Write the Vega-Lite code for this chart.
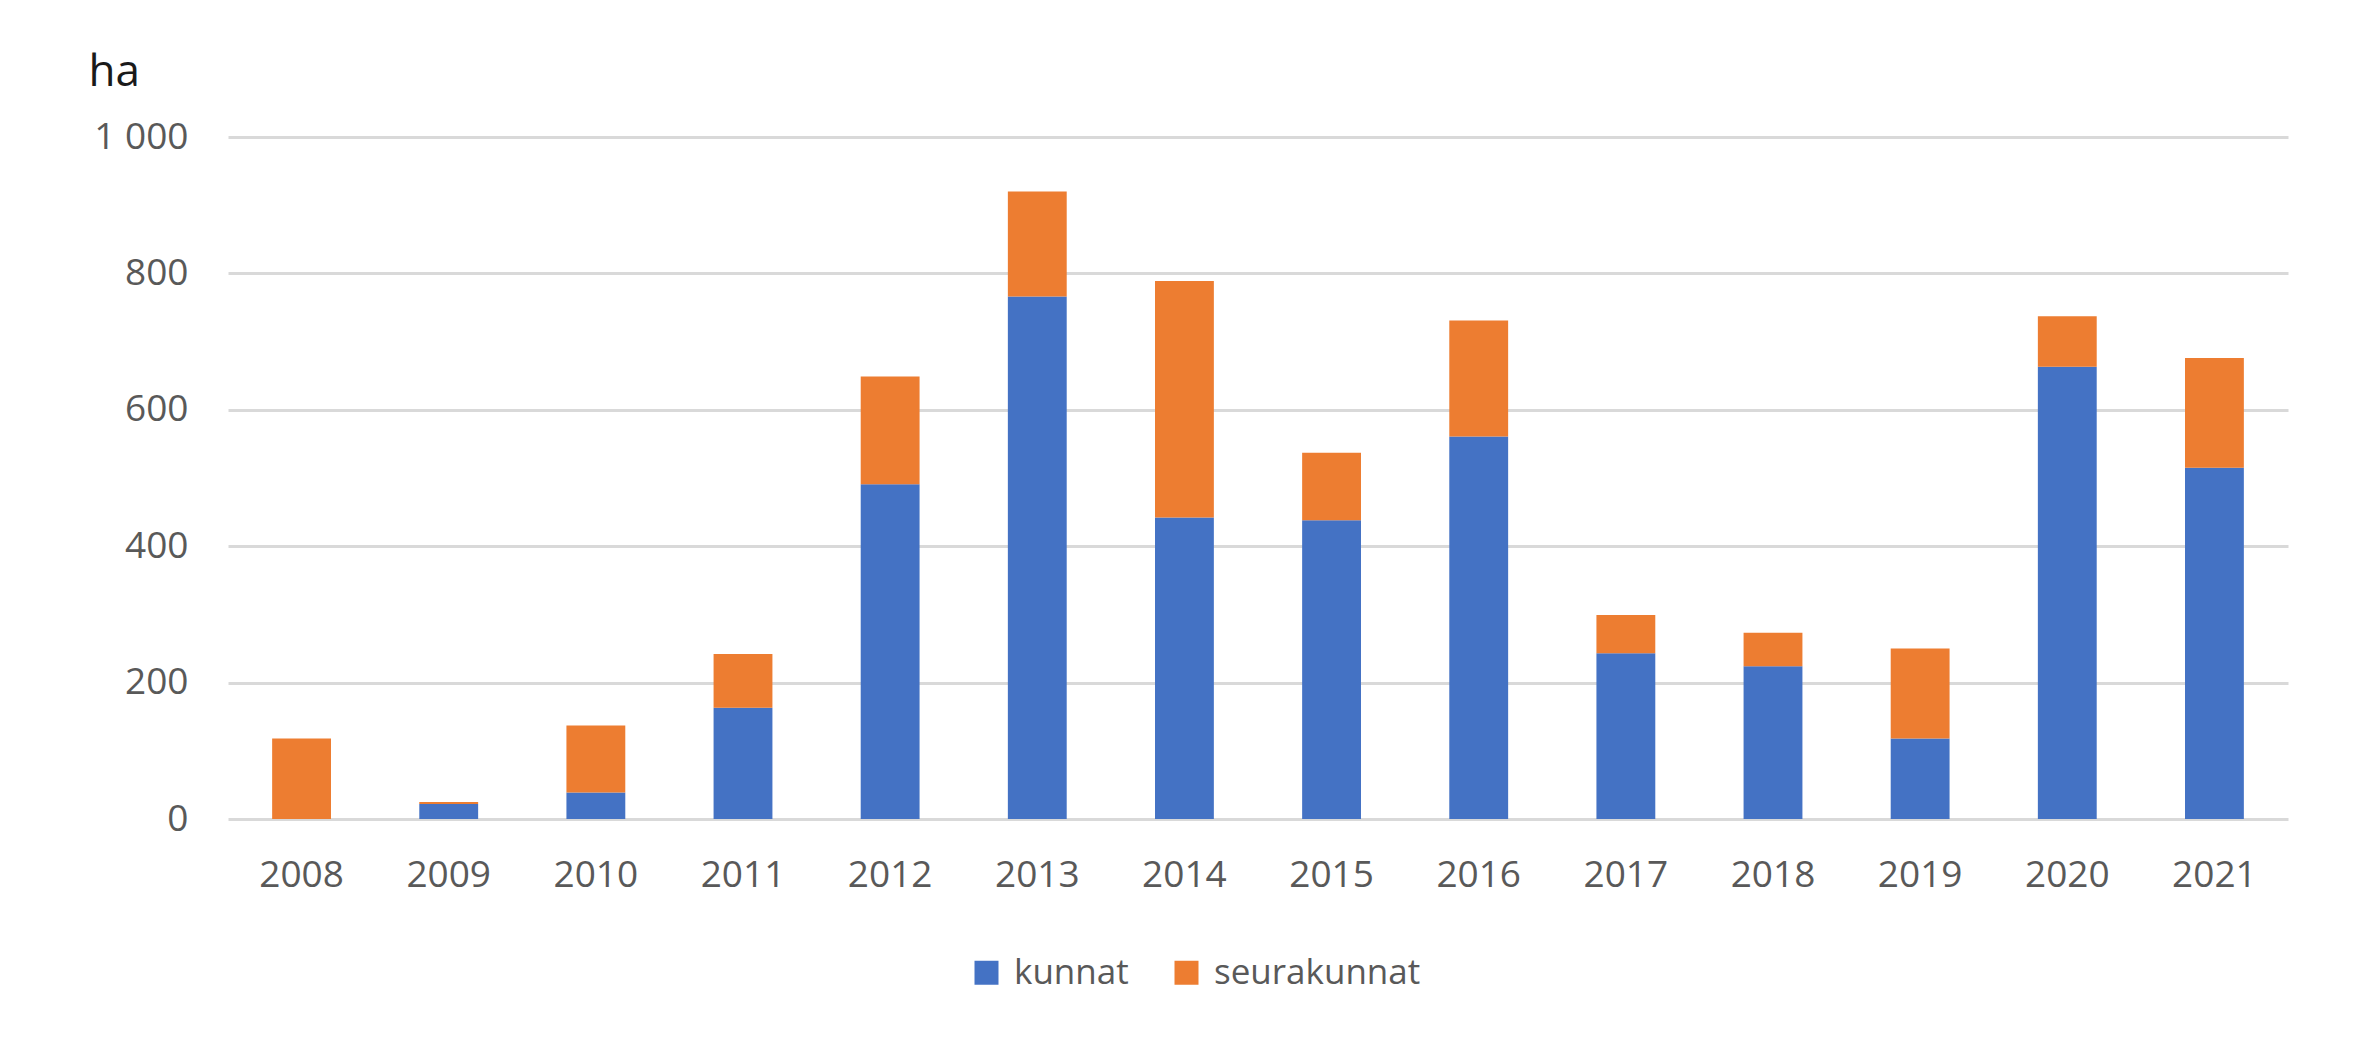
{
  "$schema": "https://vega.github.io/schema/vega-lite/v6.json",
  "width": 2060,
  "height": 682,
  "autosize": {"type": "none"},
  "padding": {"left": 228, "top": 137, "right": 86, "bottom": 219},
  "background": "white",
  "data": {
    "values": [
      {"year": "2008", "group": "kunnat", "ha": 0},
      {"year": "2008", "group": "seurakunnat", "ha": 118},
      {"year": "2009", "group": "kunnat", "ha": 22},
      {"year": "2009", "group": "seurakunnat", "ha": 3},
      {"year": "2010", "group": "kunnat", "ha": 39},
      {"year": "2010", "group": "seurakunnat", "ha": 98},
      {"year": "2011", "group": "kunnat", "ha": 163},
      {"year": "2011", "group": "seurakunnat", "ha": 79},
      {"year": "2012", "group": "kunnat", "ha": 491},
      {"year": "2012", "group": "seurakunnat", "ha": 158},
      {"year": "2013", "group": "kunnat", "ha": 766},
      {"year": "2013", "group": "seurakunnat", "ha": 154},
      {"year": "2014", "group": "kunnat", "ha": 442},
      {"year": "2014", "group": "seurakunnat", "ha": 347},
      {"year": "2015", "group": "kunnat", "ha": 438},
      {"year": "2015", "group": "seurakunnat", "ha": 99},
      {"year": "2016", "group": "kunnat", "ha": 561},
      {"year": "2016", "group": "seurakunnat", "ha": 170},
      {"year": "2017", "group": "kunnat", "ha": 243},
      {"year": "2017", "group": "seurakunnat", "ha": 56},
      {"year": "2018", "group": "kunnat", "ha": 224},
      {"year": "2018", "group": "seurakunnat", "ha": 49},
      {"year": "2019", "group": "kunnat", "ha": 118},
      {"year": "2019", "group": "seurakunnat", "ha": 132},
      {"year": "2020", "group": "kunnat", "ha": 663},
      {"year": "2020", "group": "seurakunnat", "ha": 74},
      {"year": "2021", "group": "kunnat", "ha": 515},
      {"year": "2021", "group": "seurakunnat", "ha": 161}
    ]
  },
  "mark": {"type": "bar"},
  "encoding": {
    "x": {
      "field": "year",
      "type": "ordinal",
      "scale": {"paddingInner": 0.6, "paddingOuter": 0.3},
      "axis": {
        "title": null,
        "labelAngle": 0,
        "ticks": false,
        "domain": false,
        "labelPadding": 38,
        "labelFont": "Open Sans",
        "labelFontSize": 37,
        "labelColor": "#595959"
      }
    },
    "y": {
      "field": "ha",
      "type": "quantitative",
      "stack": "zero",
      "scale": {"domain": [0, 1000], "nice": false},
      "axis": {
        "title": "ha",
        "titleAngle": 0,
        "titleAlign": "left",
        "titleBaseline": "alphabetic",
        "titleX": -140,
        "titleY": -52,
        "titleFont": "Open Sans",
        "titleFontSize": 44,
        "titleFontWeight": "normal",
        "titleColor": "#1a1a1a",
        "values": [0, 200, 400, 600, 800, 1000],
        "labelExpr": "replace(format(datum.value, ','), ',', ' ')",
        "ticks": false,
        "domain": false,
        "labelPadding": 40,
        "labelFont": "Open Sans",
        "labelFontSize": 37,
        "labelColor": "#595959",
        "grid": true,
        "gridColor": "#d9d9d9",
        "gridWidth": 3
      }
    },
    "color": {
      "field": "group",
      "type": "nominal",
      "scale": {"domain": ["kunnat", "seurakunnat"], "range": ["#4472C4", "#ED7D31"]},
      "legend": {
        "title": null,
        "orient": "none",
        "direction": "horizontal",
        "legendX": 741,
        "legendY": 818,
        "symbolType": "square",
        "symbolSize": 576,
        "symbolStrokeWidth": 0,
        "labelFont": "Open Sans",
        "labelFontSize": 35,
        "labelColor": "#595959",
        "labelLimit": 0,
        "labelOffset": 10,
        "columnPadding": 40,
        "padding": 0
      }
    },
    "order": {"field": "group", "sort": "ascending"}
  },
  "config": {
    "view": {"stroke": null},
    "axis": {"gridOpacity": 1}
  }
}
